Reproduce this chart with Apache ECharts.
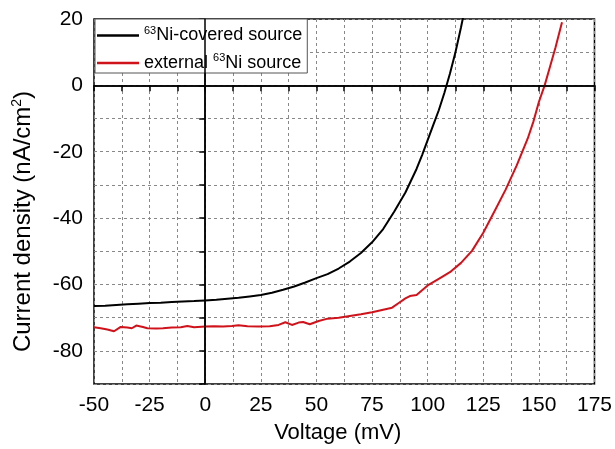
<!DOCTYPE html>
<html>
<head>
<meta charset="utf-8">
<script src="https://cdn.jsdelivr.net/npm/echarts@6/dist/echarts.min.js"></script>
<style>
  html, body { margin: 0; padding: 0; background: #fff; }
  #chart { width: 615px; height: 449px; }
</style>
</head>
<body>
<div id="chart"></div>
<script>
// 读图得到的数据（电压 mV，电流密度 nA/cm²）
var seriesNames = ['⁶³Ni-covered source', 'external ⁶³Ni source'];

var coveredV = [-50, -45, -40, -35, -30, -25, -20, -15, -10, -5, 0, 5, 10, 15, 20, 25, 30, 35, 40, 45,
  50, 55, 60, 65, 70, 75, 80, 85, 90, 95, 97.5, 100, 102.5, 105, 107.5, 110, 112.5, 115, 117];
var coveredJ = [-66.5, -66.4, -66.2, -66.0, -65.8, -65.6, -65.5, -65.3, -65.1, -65.0, -64.8, -64.6, -64.3, -64.0, -63.6, -63.2, -62.5, -61.6, -60.6, -59.4,
  -58.1, -56.9, -55.2, -53.1, -50.5, -47.3, -43.3, -38.0, -32.3, -25.2, -21.0, -16.5, -12.0, -7.5, -2.3, 3.5, 10.0, 17.5, 24];

var externalV = [-50, -47, -44, -41, -38, -35, -33, -31, -28, -26, -22, -19, -15, -11, -8, -5, 0, 4, 8, 12,
  15, 19, 24, 29, 33, 36, 39, 42, 44, 47, 51, 55, 60, 65, 70, 75, 80, 84, 87, 90,
  92, 95, 100, 105, 110, 115, 120, 125, 130, 135, 140, 145, 147.5, 150, 152.6, 155, 157.5, 160.4];
var externalJ = [-72.9, -73.2, -73.6, -74.1, -72.8, -73.0, -73.2, -72.4, -72.8, -73.2, -73.3, -73.2, -73.0, -72.9, -72.5, -72.9, -72.7, -72.6, -72.7, -72.5,
  -72.3, -72.6, -72.7, -72.6, -72.2, -71.4, -72.2, -71.5, -71.3, -72.0, -71.0, -70.3, -70.0, -69.5, -69.0, -68.4, -67.6, -67.0, -65.6, -64.2,
  -63.5, -63.2, -60.3, -58.3, -56.3, -53.5, -49.8, -44.4, -38.0, -31.5, -24.2, -16.0, -11.0, -5.0, 0, 5.6, 11.5, 19];

function pairs(xs, ys) {
  return xs.map(function (x, i) { return [x, ys[i]]; });
}

var myChart = echarts.init(document.getElementById('chart'), null, { renderer: 'canvas' });
var font = '"Liberation Sans", Arial, sans-serif';

var option = {
  animation: false,
  backgroundColor: '#fff',
  textStyle: { fontFamily: font },
  grid: {
    left: 94, right: 19, top: 19, bottom: 58,
    show: true, borderColor: '#000', borderWidth: 1.5
  },
  legend: {
    orient: 'vertical',
    left: 95, top: 19,
    padding: [6, 5, 1, 2],
    itemGap: 8,
    itemWidth: 42,
    itemHeight: 2.5,
    icon: 'rect',
    backgroundColor: '#fff',
    borderColor: '#555',
    borderWidth: 1,
    data: seriesNames,
    formatter: function (name) {
      if (name === seriesNames[0]) return '{sup|63}{t|Ni-covered source}';
      return '{t|external }{sup|63}{t|Ni source}';
    },
    textStyle: {
      fontFamily: font,
      rich: {
        t: { fontSize: 18, lineHeight: 21, color: '#000', fontFamily: font },
        sup: { fontSize: 11, lineHeight: 12, verticalAlign: 'top', color: '#000', fontFamily: font }
      }
    }
  },
  xAxis: {
    type: 'value',
    min: -50, max: 175, interval: 12.5,
    name: 'Voltage (mV)',
    nameLocation: 'middle',
    nameGap: 38,
    nameTextStyle: { fontSize: 22, color: '#000', fontFamily: font, padding: [0, 13, 0, 0] },
    axisLine: { lineStyle: { color: '#000', width: 1.5 } },
    axisTick: { show: true, length: 6, interval: 0, lineStyle: { color: '#000', width: 1.5 } },
    axisLabel: {
      fontSize: 21, color: '#000', margin: 11, fontFamily: font,
      showMinLabel: true, showMaxLabel: true,
      formatter: function (v) { return v % 25 === 0 ? String(v) : ''; }
    },
    splitLine: { show: true, lineStyle: { color: '#888', type: [3, 3], width: 1 } }
  },
  yAxis: {
    type: 'value',
    min: -90, max: 20, interval: 10,
    name: '{t|Current density (nA/cm}{sup|2}{t|)}',
    nameLocation: 'middle',
    nameGap: 58,
    nameRotate: 90,
    nameTextStyle: {
      color: '#000', fontFamily: font,
      padding: [0, 40, 0, 0],
      rich: {
        t: { fontSize: 24, lineHeight: 26, color: '#000', fontFamily: font },
        sup: { fontSize: 14, lineHeight: 14, verticalAlign: 'top', color: '#000', fontFamily: font }
      }
    },
    axisLine: { lineStyle: { color: '#000', width: 1.5 } },
    axisTick: { show: true, length: 6, interval: 0, lineStyle: { color: '#000', width: 1.5 } },
    axisLabel: {
      fontSize: 21, color: '#000', margin: 11, fontFamily: font,
      formatter: function (v) { return v % 20 === 0 ? String(v) : ''; }
    },
    splitLine: { show: true, lineStyle: { color: '#888', type: [3, 3], width: 1 } }
  },
  series: [
    {
      name: seriesNames[0],
      type: 'line',
      symbol: 'none',
      color: '#000',
      lineStyle: { color: '#000', width: 2 },
      data: pairs(coveredV, coveredJ),
      markLine: {
        silent: true,
        symbol: ['none', 'none'],
        label: { show: false },
        lineStyle: { color: '#000', type: 'solid', width: 1.5 },
        data: [{ xAxis: 0 }, { yAxis: 0 }]
      }
    },
    {
      name: seriesNames[1],
      type: 'line',
      symbol: 'none',
      color: '#d0121a',
      lineStyle: { color: '#d0121a', width: 2 },
      data: pairs(externalV, externalJ)
    }
  ]
};

myChart.setOption(option);

window.addEventListener('resize', function () {
  myChart.resize();
});
</script>
</body>
</html>
